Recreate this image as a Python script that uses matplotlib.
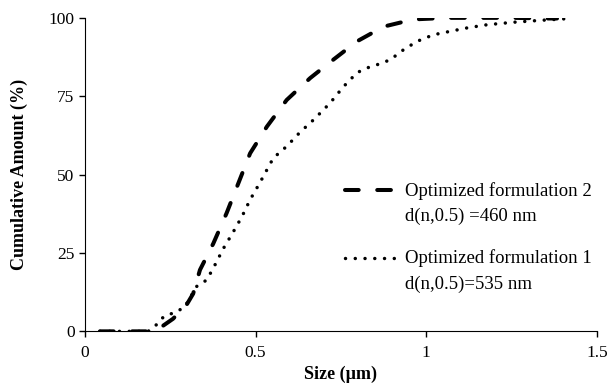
import matplotlib
matplotlib.use("Agg")
import numpy as np
import matplotlib.pyplot as plt

plt.rcParams["font.family"] = ["Liberation Serif", "DejaVu Serif"]

# Optimized formulation 2 (dashed)
size_f2 = [0.044, 0.08, 0.12, 0.16, 0.185, 0.229, 0.258, 0.298, 0.317, 0.337,
           0.376, 0.415, 0.445, 0.484, 0.533, 0.591, 0.66, 0.727, 0.797, 0.875,
           0.962, 1.06, 1.167, 1.256, 1.354, 1.383]
cum_f2 = [0, 0, 0, 0, 0, 1.8, 4, 8.5, 12, 19.6,
          28, 37.7, 46, 56.8, 65.3, 73.8, 80.8, 86.6, 92.5, 97.2,
          99.5, 100, 100, 100, 99.8, 99.8]

# Optimized formulation 1 (dotted)
size_f1 = [0.044, 0.1, 0.185, 0.205, 0.22, 0.24, 0.264, 0.293, 0.327, 0.357,
           0.381, 0.406, 0.435, 0.46, 0.484, 0.513, 0.552, 0.591, 0.63, 0.67,
           0.718, 0.757, 0.797, 0.826, 0.86, 0.894, 0.933, 0.973, 1.021, 1.07,
           1.12, 1.178, 1.256, 1.334, 1.408]
cum_f1 = [0, 0, 0, 1.5, 3.7, 5.3, 5.9, 7.9, 14.3, 16.4,
          21.2, 26.5, 31.8, 36.6, 42, 47.5, 55.3, 59, 63.5, 67.5,
          72.8, 78, 82.5, 84, 85.2, 86.6, 89.8, 92.5, 94.6, 95.7,
          96.8, 97.8, 98.6, 99.2, 99.7]

labels = ["Optimized formulation 2\nd(n,0.5) =460 nm",
          "Optimized formulation 1\nd(n,0.5)=535 nm"]

fig = plt.figure(figsize=(6.11, 3.88), dpi=100)
ax = fig.add_axes([0.139, 0.146, 0.838, 0.808])

l2, = ax.plot(size_f2, cum_f2, color="black", lw=2.9, linestyle=(0, (3.4, 4.6)),
              dash_capstyle="round", solid_capstyle="round")
l1, = ax.plot(size_f1, cum_f1, color="black", lw=2.5, linestyle=(0, (0.01, 2.8)),
              dash_capstyle="round")

ax.set_xlim(0, 1.5)
ax.set_ylim(0, 100)
ax.set_xticks([0, 0.5, 1, 1.5])
ax.set_xticklabels(["0", "0.5", "1", "1.5"])
ax.set_yticks([0, 25, 50, 75, 100])
for s in ["top", "right"]:
    ax.spines[s].set_visible(False)
ax.tick_params(labelsize=12.5, length=4, width=1, direction="out")
ax.tick_params(axis="x", pad=6)
ax.set_xlabel("Size (µm)", fontsize=13, fontweight="bold", labelpad=3)
ax.set_ylabel("Cumulative Amount (%)", fontsize=13, fontweight="bold", labelpad=15)

leg = ax.legend([l2, l1], labels, loc="upper left", bbox_to_anchor=(0.475, 0.53),
                frameon=False, fontsize=13.5, handlelength=2.8, handletextpad=0.4,
                labelspacing=1.3)
for t in leg.get_texts():
    t.set_linespacing(1.6)
# put each handle beside the first line of its label
for h in leg.legend_handles:
    h.set_ydata(np.asarray(h.get_ydata()) + 9.5)

fig.savefig("out.png", dpi=100)
